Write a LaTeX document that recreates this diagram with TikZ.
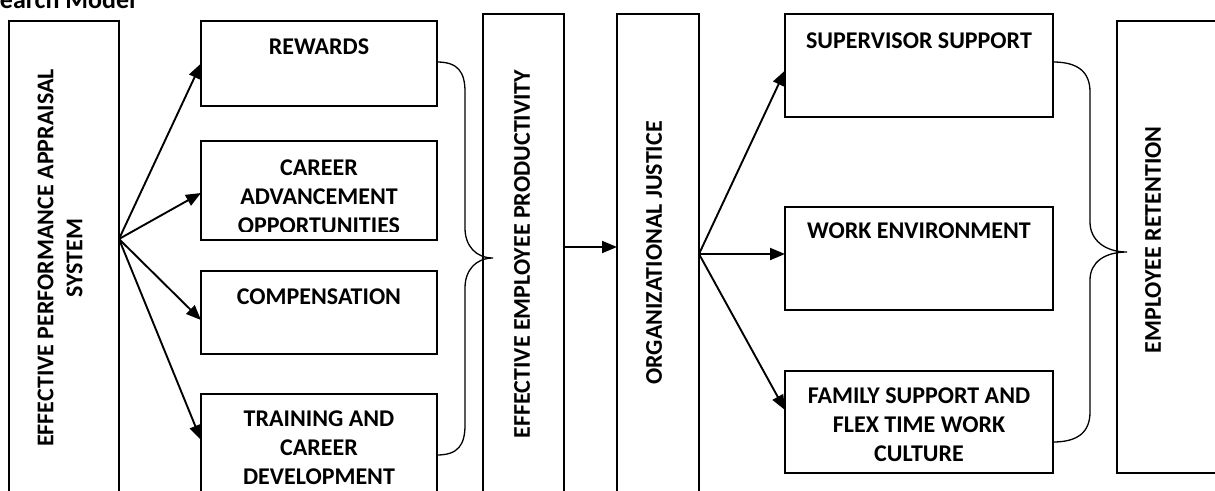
\documentclass[tikz,border=0pt]{standalone}
\usepackage{fontspec}
\setmainfont{Carlito}
\usetikzlibrary{arrows.meta}
\begin{document}
\begin{tikzpicture}[x=1pt,y=-1pt,
  box/.style={draw,line width=1.6pt,inner sep=0pt,outer sep=0pt,anchor=north west},
  lbl/.style={font=\bfseries\fontsize{24}{29}\selectfont,align=center,inner sep=0pt},
  vlbl/.style={lbl,rotate=90},
  arr/.style={line width=1.9pt,-{Triangle[length=15pt,width=12pt]}},
  brace/.style={line width=1.3pt}
]
\useasboundingbox (0,0) rectangle (1215,490);
\clip (0,0) rectangle (1215,490);

% title (cut at the top edge, as in the reference)
\node[anchor=base west,inner sep=0pt,font=\bfseries\fontsize{26}{30}\selectfont] (title) at (-38,8) {Research Model};

% boxes
\node[box,minimum width=110pt,minimum height=500pt] (epas) at (9,21) {};
\node[box,minimum width=236pt,minimum height=85pt] (rew) at (201,21) {};
\node[box,minimum width=236pt,minimum height=99pt] (car) at (201,141) {};
\node[box,minimum width=236pt,minimum height=83pt] (comp) at (201,271) {};
\node[box,minimum width=236pt,minimum height=120pt] (train) at (201,394) {};
\node[box,minimum width=81pt,minimum height=500pt] (eep) at (483,14) {};
\node[box,minimum width=82pt,minimum height=500pt] (oj) at (617,14) {};
\node[box,minimum width=268pt,minimum height=103pt] (sup) at (785,14) {};
\node[box,minimum width=268pt,minimum height=103pt] (work) at (785,207) {};
\node[box,minimum width=268pt,minimum height=102pt] (fam) at (785,371) {};
\node[box,minimum width=130pt,minimum height=452pt] (ret) at (1117,21) {};

% texts
\node[vlbl] (tepas) at (60,258) {EFFECTIVE PERFORMANCE APPRAISAL\\SYSTEM};
\node[lbl] (trew) at (319,47) {REWARDS};
\begin{scope}
  \clip (car.north west) rectangle ([yshift=9pt]car.south east);
  \node[lbl] (tcar) at (319,197) {CAREER\\ADVANCEMENT\\OPPORTUNITIES};
\end{scope}
\node[lbl] (tcomp) at (319,297) {COMPENSATION};
\node[lbl] (ttrain) at (319,448) {TRAINING AND\\CAREER\\DEVELOPMENT};
\node[vlbl] (teep) at (522,254) {EFFECTIVE EMPLOYEE PRODUCTIVITY};
\node[vlbl] (toj) at (654,253) {ORGANIZATIONAL JUSTICE};
\node[lbl] (tsup) at (919,41) {SUPERVISOR SUPPORT};
\node[lbl] (twork) at (919,231) {WORK ENVIRONMENT};
\node[lbl] (tfam) at (919,425) {FAMILY SUPPORT AND\\FLEX TIME WORK\\CULTURE};
\node[vlbl] (tret) at (1153,240) {EMPLOYEE RETENTION};

% left fan of arrows
\coordinate (f1) at (119,239);
\draw[arr] (f1) -- (rew.west);
\draw[arr] (f1) -- ([yshift=-2.5pt]car.west);
\draw[arr] (f1) -- ([yshift=-7.5pt]comp.west);
\draw[arr] (f1) -- ([yshift=-46pt]train.north west);

% middle arrow
\draw[arr] ([yshift=-233pt]eep.north east) -- ([yshift=-233pt]oj.north west);

% right fan of arrows
\coordinate (f2) at (699,254);
\draw[arr] (f2) -- ([yshift=-5pt]sup.west);
\draw[arr] (f2) -- ([yshift=4.5pt]work.west);
\draw[arr] (f2) -- ([yshift=12pt]fam.west);

% braces
\draw[brace] ([yshift=1.5pt]rew.east) .. controls (458,62) and (465,72) .. (465,92)
  -- (465,228) .. controls (465,246) and (476,258) .. (493,258)
  .. controls (476,258) and (465,270) .. (465,288)
  -- (465,425) .. controls (465,445) and (458,455) .. ([yshift=-61pt]train.north east);
\draw[brace] ([yshift=3.5pt]sup.east) .. controls (1078,62) and (1090,72) .. (1090,92)
  -- (1090,222) .. controls (1090,240) and (1105,252) .. (1127,252)
  .. controls (1105,252) and (1090,262) .. (1090,280)
  -- (1090,412) .. controls (1090,432) and (1078,442) .. ([yshift=-71pt]fam.north east);
\end{tikzpicture}
\end{document}
